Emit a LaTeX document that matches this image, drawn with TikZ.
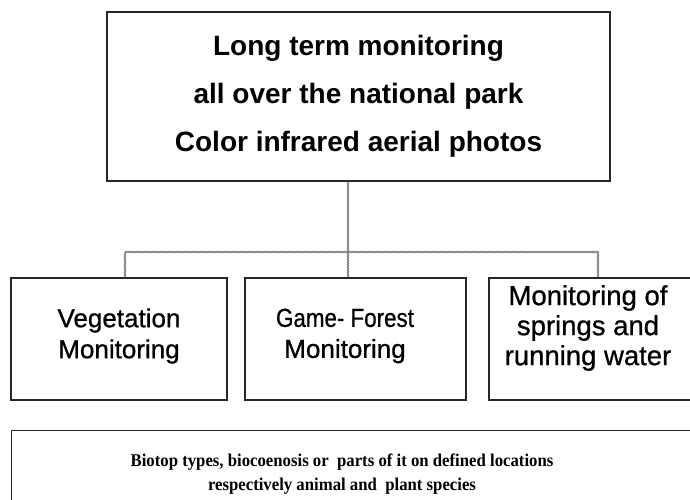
\documentclass[tikz,border=0pt]{standalone}
\usepackage{fontspec}
\usetikzlibrary{decorations.pathmorphing}
\newfontfamily\topfont{Liberation Sans}
\newfontfamily\midfont[FakeBold=0.8]{Liberation Sans}
\newfontfamily\botfont[FakeStretch=0.93]{Liberation Serif}
\tikzset{
  boxline/.style={draw=black!85, line width=1.3pt},
  topbox/.style={boxline, line width=1.6pt, minimum width=503pt, minimum height=169pt, inner sep=0pt,
    align=center, font=\topfont\bfseries\fontsize{28}{48}\selectfont},
  midbox/.style={boxline, minimum height=122pt, inner sep=0pt},
  midtext/.style={align=center, inner sep=0pt, font=\midfont\fontsize{26}{31}\selectfont},
  bottext/.style={align=center, inner sep=0pt, font=\botfont\bfseries\fontsize{18}{24}\selectfont},
  conn/.style={draw=black!55, line width=0.7pt, decorate,
    decoration={zigzag, amplitude=0.7pt, segment length=1.6pt}}
}
\begin{document}
\begin{tikzpicture}[x=1pt,y=-1pt]
\useasboundingbox (0,0) rectangle (690,500);
\clip (0,0) rectangle (690,500);
\fill[white] (0,0) rectangle (690,500);
\node[topbox] (top) at (358.5,96.5) {Long term monitoring\\all over the national park\\Color infrared aerial photos};
\node[midbox, minimum width=216pt] (veg) at (119,339) {};
\node[midbox, minimum width=221pt] (game) at (355.5,339) {};
\node[midbox, minimum width=222pt] (spr) at (600,339) {};
\node[midtext] (vegt) at (119,336) {Vegetation\\Monitoring};
\node[midtext] (gamet) at (345,336) {\scalebox{0.86}[1]{Game- Forest}\\Monitoring};
\node[midtext, font=\midfont\fontsize{27.5}{30}\selectfont] (sprt) at (588,328) {Monitoring of\\springs and\\running water};
\node[boxline, minimum width=700pt, minimum height=120pt, anchor=north west] (bio) at (11,430) {};
\node[bottext] (biot) at (342,474)
  {Biotop types, biocoenosis or\ \ parts of it on defined locations\\respectively animal and\ \ plant species};
\coordinate (hub) at (348,252);
\coordinate (jl) at (125,252);
\coordinate (jr) at (598,252);
\draw[conn] (top.south -| hub) -- (hub);
\draw[conn] (jl) -- (jr);
\draw[conn] (jl) -- (jl |- veg.north);
\draw[conn] (hub) -- (hub |- game.north);
\draw[conn] (jr) -- (jr |- spr.north);
\end{tikzpicture}
\end{document}
